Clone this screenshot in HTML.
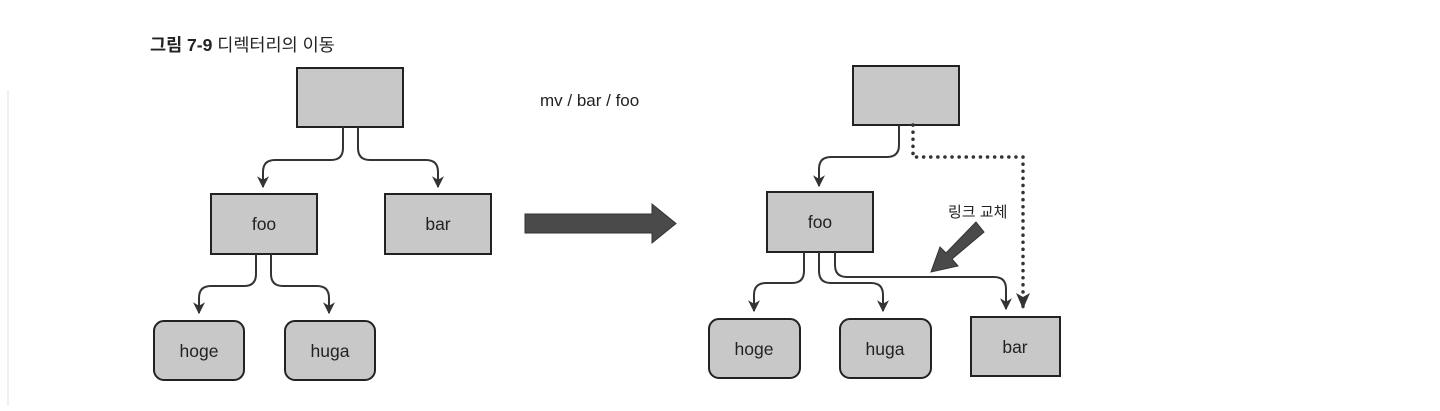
<!DOCTYPE html>
<html><head><meta charset="utf-8"><style>
body{margin:0;background:#fff;width:1440px;height:406px;overflow:hidden}
svg text{font-family:"Liberation Sans","Noto Sans CJK KR",sans-serif;fill:#222}
</style></head><body>
<svg width="1440" height="406" viewBox="0 0 1440 406" xmlns="http://www.w3.org/2000/svg">
<defs>
<marker id="a" viewBox="0 0 10 10" refX="9" refY="5" markerWidth="12" markerHeight="12" markerUnits="userSpaceOnUse" orient="auto"><path d="M0,0 L10,5 L0,10 L3,5 Z" fill="#333"/></marker>
<marker id="b" viewBox="0 0 12 10" refX="11" refY="5" markerWidth="15" markerHeight="13" markerUnits="userSpaceOnUse" orient="auto"><path d="M0,0 L12,5 L0,10 L3,5 Z" fill="#333"/></marker>
</defs>
<line x1="8" y1="90" x2="8" y2="406" stroke="#f0f0f0" stroke-width="2"/>
<text x="150" y="51" font-size="17.5"><tspan font-weight="bold">그림 7-9</tspan>  디렉터리의 이동</text>
<g fill="#c8c8c8" stroke="#222" stroke-width="2">
<rect x="297" y="68" width="106" height="59"/>
<rect x="211" y="194" width="106" height="60"/>
<rect x="385" y="194" width="106" height="60"/>
<rect x="154" y="321" width="90" height="59" rx="10"/>
<rect x="285" y="321" width="90" height="59" rx="10"/>
<rect x="853" y="66" width="106" height="59"/>
<rect x="767" y="192" width="106" height="60"/>
<rect x="709" y="319" width="91" height="59" rx="10"/>
<rect x="840" y="319" width="91" height="59" rx="10"/>
<rect x="971" y="317" width="89" height="59"/>
</g>
<g font-size="17.5" text-anchor="middle">
<text x="264" y="230">foo</text><text x="438" y="230">bar</text>
<text x="199" y="357">hoge</text><text x="330" y="357">huga</text>
<text x="820" y="228">foo</text><text x="754" y="355">hoge</text>
<text x="885" y="355">huga</text><text x="1015" y="353">bar</text>
</g>
<text x="540" y="106" font-size="17">mv / bar / foo</text>
<text x="948" y="217" font-size="15">링크 교체</text>
<g fill="none" stroke="#333" stroke-width="2" marker-end="url(#a)">
<path d="M343,127 V148 Q343,160 331,160 H275 Q263,160 263,172 V187"/>
<path d="M358,127 V148 Q358,160 370,160 H426 Q438,160 438,172 V187"/>
<path d="M256,254 V274 Q256,286 244,286 H211 Q199,286 199,298 V313"/>
<path d="M271,254 V274 Q271,286 283,286 H317 Q329,286 329,298 V313"/>
<path d="M899,125 V145 Q899,157 887,157 H831 Q819,157 819,169 V186"/>
<path d="M804,252 V271 Q804,283 792,283 H766 Q754,283 754,295 V311"/>
<path d="M819,252 V271 Q819,283 831,283 H871 Q883,283 883,295 V311"/>
<path d="M835,252 V265 Q835,277 847,277 H994 Q1006,277 1006,289 V309"/>
</g>
<path d="M913,125 V157 H1023 V309" fill="none" stroke="#333" stroke-width="3.5" stroke-dasharray="0.1 7" stroke-linecap="round"/>
<path d="M1016,293 L1023,309 L1030,293 L1023,297 Z" fill="#333"/>
<polygon points="525,214 652,214 652,204 676,223.5 652,243 652,233 525,233" fill="#4a4a4a" stroke="#333" stroke-width="1"/>
<polygon points="976,222 984,232 952,259 958,266 931,272 940,247 946,253" fill="#4a4a4a" stroke="#333" stroke-width="1"/>
</svg>
</body></html>
